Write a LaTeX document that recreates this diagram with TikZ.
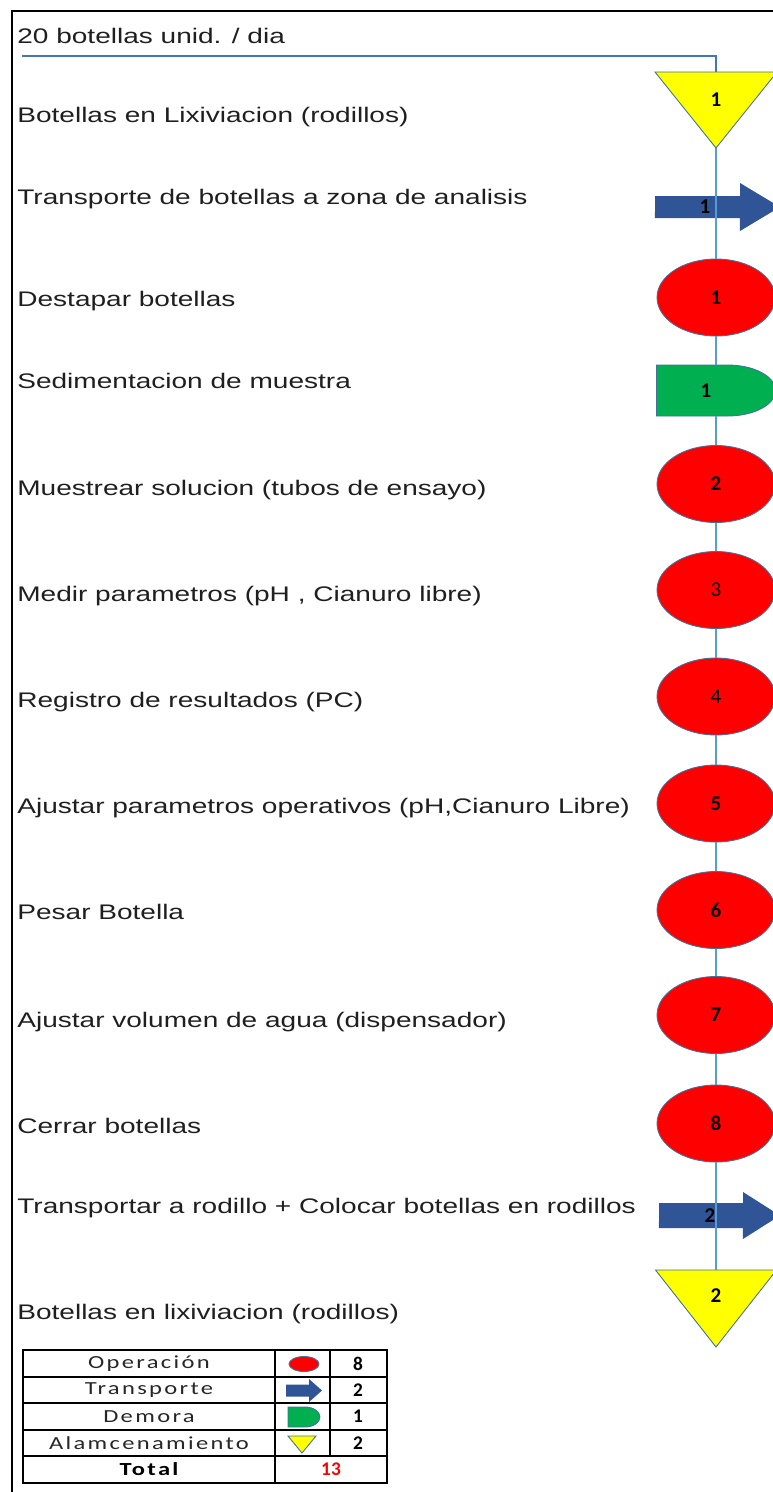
\documentclass[tikz,border=0pt]{standalone}
\usepackage{fontspec}
\setmainfont{Liberation Sans}[FakeStretch=1.33]
\newfontfamily\tabfont{Carlito}[FakeStretch=1.33,LetterSpace=12.7]
\newfontfamily\numfont{Carlito}
\usetikzlibrary{shapes.geometric,backgrounds,calc}

\definecolor{opred}{RGB}{255,0,0}
\definecolor{trblue}{RGB}{47,85,151}
\definecolor{dmgreen}{RGB}{0,176,80}
\definecolor{styellow}{RGB}{255,255,0}
\definecolor{edgeblue}{RGB}{65,113,156}
\definecolor{flowblue}{RGB}{91,155,213}
\definecolor{feedblue}{RGB}{68,114,196}

\begin{document}
\begin{tikzpicture}[
    x=0.02cm, y=-0.02cm,
    font=\fontsize{12}{14}\selectfont,
    frame/.style      = {black, line width=0.8pt},
    feed/.style       = {feedblue, line width=1.1pt},
    flow/.style       = {flowblue, line width=1.3pt},
    steptext/.style   = {anchor=base west, inner sep=0pt, text=black!88},
    oper/.style       = {ellipse, fill=opred, draw=edgeblue, line width=0.5pt,
                         minimum width=2.36cm, minimum height=1.54cm, inner sep=0pt},
    box/.style        = {rectangle, inner sep=0pt, outer sep=0pt},
    num/.style        = {font=\numfont\bfseries\fontsize{12}{14}\selectfont, inner sep=0pt},
    numthin/.style    = {font=\numfont\fontsize{12}{14}\selectfont},
    store-fill/.style = {fill=styellow, draw=edgeblue, line width=0.5pt},
    move-fill/.style  = {fill=trblue},
    wait-fill/.style  = {fill=dmgreen, draw=edgeblue, line width=0.5pt},
    tabline/.style    = {black, line width=0.8pt},
    cell/.style       = {font=\tabfont\fontsize{10.5}{12}\selectfont, inner sep=0pt, text=black!85},
    celltotal/.style  = {font=\tabfont\bfseries\fontsize{10.5}{12}\selectfont, inner sep=0pt},
    cellnum/.style    = {font=\numfont\bfseries\fontsize{11}{13}\selectfont, inner sep=0pt}
  ]

\useasboundingbox (0,0) rectangle (773,1492);
\clip (0,0) rectangle (773,1492);

% =========================================================
% Frame and process steps
% =========================================================
\draw[frame] (12,1500) -- (12,11) -- (790,11);

\node[steptext] (in)    at (17,43)   {20 botellas unid. / dia};
\node[steptext] (txt1)  at (17,122)  {Botellas en Lixiviacion (rodillos)};
\node[steptext] (txt2)  at (17,204)  {Transporte de botellas a zona de analisis};
\node[steptext] (txt3)  at (17,306)  {Destapar botellas};
\node[steptext] (txt4)  at (17,388)  {Sedimentacion de muestra};
\node[steptext] (txt5)  at (17,495)  {Muestrear solucion (tubos de ensayo)};
\node[steptext] (txt6)  at (17,601)  {Medir parametros (pH , Cianuro libre)};
\node[steptext] (txt7)  at (17,707)  {Registro de resultados (PC)};
\node[steptext] (txt8)  at (17,813)  {Ajustar parametros operativos (pH,Cianuro Libre)};
\node[steptext] (txt9)  at (17,919)  {Pesar Botella};
\node[steptext] (txt10) at (17,1027) {Ajustar volumen de agua (dispensador)};
\node[steptext] (txt11) at (17,1133) {Cerrar botellas};
\node[steptext] (txt12) at (17,1213) {Transportar a rodillo + Colocar botellas en rodillos};
\node[steptext] (txt13) at (17,1319) {Botellas en lixiviacion (rodillos)};

% =========================================================
% Symbols (boxes carry the numbers, shapes on background)
% =========================================================
\node[box, minimum width=2.44cm, minimum height=1.52cm,
      label={[num, yshift=0.2cm]center:1}] (tri1) at (716,110) {};
\node[box, minimum width=2.5cm, minimum height=0.96cm,
      label={[num, xshift=-0.25cm]center:1}] (arr1) at (717.5,207) {};
\node[oper, num] (op1) at (716,297.5) {1};
\node[box, minimum width=2.38cm, minimum height=1.02cm,
      label={[num, xshift=-0.2cm]center:1}] (dem1) at (716,390.5) {};
\node[oper, num] (op2) at (716,484)    {2};
\node[oper, num, numthin] (op3) at (716,590)   {3};
\node[oper, num, numthin] (op4) at (716,696.5) {4};
\node[oper, num] (op5) at (716,803.5)  {5};
\node[oper, num] (op6) at (716,910)    {6};
\node[oper, num] (op7) at (716,1015)   {7};
\node[oper, num] (op8) at (716,1123.5) {8};
\node[box, minimum width=2.42cm, minimum height=0.94cm,
      label={[num, xshift=-0.19cm]center:2}] (arr2) at (719.5,1215.5) {};
\node[box, minimum width=2.42cm, minimum height=1.54cm,
      label={[num, yshift=0.25cm]center:2}] (tri2) at (716,1308.5) {};

\begin{scope}[on background layer]
  \path[store-fill] (tri1.north west) -- (tri1.north east) -- (tri1.south) -- cycle;
  \path[move-fill] ($(arr1.west)+(0,-11)$) -- ++(85,0) -- ++(0,-13) -- (arr1.east)
    -- ++(-40,24) -- ++(0,-13) -- ++(-85,0) -- cycle;
  \path[wait-fill] (dem1.north west) -- ++(71,0)
    arc[start angle=90, end angle=-90, x radius=0.96cm, y radius=0.51cm]
    -- (dem1.south west) -- cycle;
  \path[move-fill] ($(arr2.west)+(0,-12.5)$) -- ++(84,0) -- ++(0,-11) -- (arr2.east)
    -- ++(-37,23.5) -- ++(0,-11) -- ++(-84,0) -- cycle;
  \path[store-fill] (tri2.north west) -- (tri2.north east) -- (tri2.south) -- cycle;
\end{scope}

% Connectors
\coordinate (feed-in) at (22,56);
\draw[feed] (feed-in) -| (tri1.north);
\draw[flow] (tri1.south) -- (op1.north);
\draw[flow] (op1.south) -- (dem1.north);
\draw[flow] (dem1.south) -- (op2.north);
\foreach \a/\b in {op2/op3, op3/op4, op4/op5, op5/op6, op6/op7, op7/op8}
  {\draw[flow] (\a.south) -- (\b.north);}
\draw[flow] (op8.south) -- (tri2.north);

% =========================================================
% Summary table
% =========================================================
\draw[tabline] (23,1350) rectangle (387,1483);
\foreach \yy in {1377,1403,1430,1456} {\draw[tabline] (23,\yy) -- (387,\yy);}
\draw[tabline] (275,1350) -- (275,1483);
\draw[tabline] (330,1350) -- (330,1456);

\node[cell] (row1) at (149,1363.5) {Operación};
\node[cell] (row2) at (149,1390)   {Transporte};
\node[cell] (row3) at (149,1416.5) {Demora};
\node[cell] (row4) at (149,1443)   {Alamcenamiento};
\node[celltotal] (row5) at (149,1469.5) {Total};

\node[cellnum] (cnt1) at (358,1363.5) {8};
\node[cellnum] (cnt2) at (358,1390)   {2};
\node[cellnum] (cnt3) at (358,1416.5) {1};
\node[cellnum] (cnt4) at (358,1443)   {2};
\node[cellnum, text=opred] (cnt5) at (331,1469.5) {13};

% Icons
\node[ellipse, fill=opred, draw=edgeblue, line width=0.5pt, inner sep=0pt,
      minimum width=0.6cm, minimum height=0.3cm] (ico1) at (304,1364) {};
\fill[trblue] (286,1384.5) -- (309,1384.5) -- (309,1379) -- (322,1390.5)
  -- (309,1402) -- (309,1396.5) -- (286,1396.5) -- cycle;
\path[wait-fill] (288,1407) -- (305,1407)
  arc[start angle=90, end angle=-90, x radius=0.3cm, y radius=0.2cm] -- (288,1427) -- cycle;
\path[store-fill] (288,1436) -- (316,1436) -- (302,1453) -- cycle;

\end{tikzpicture}
\end{document}
